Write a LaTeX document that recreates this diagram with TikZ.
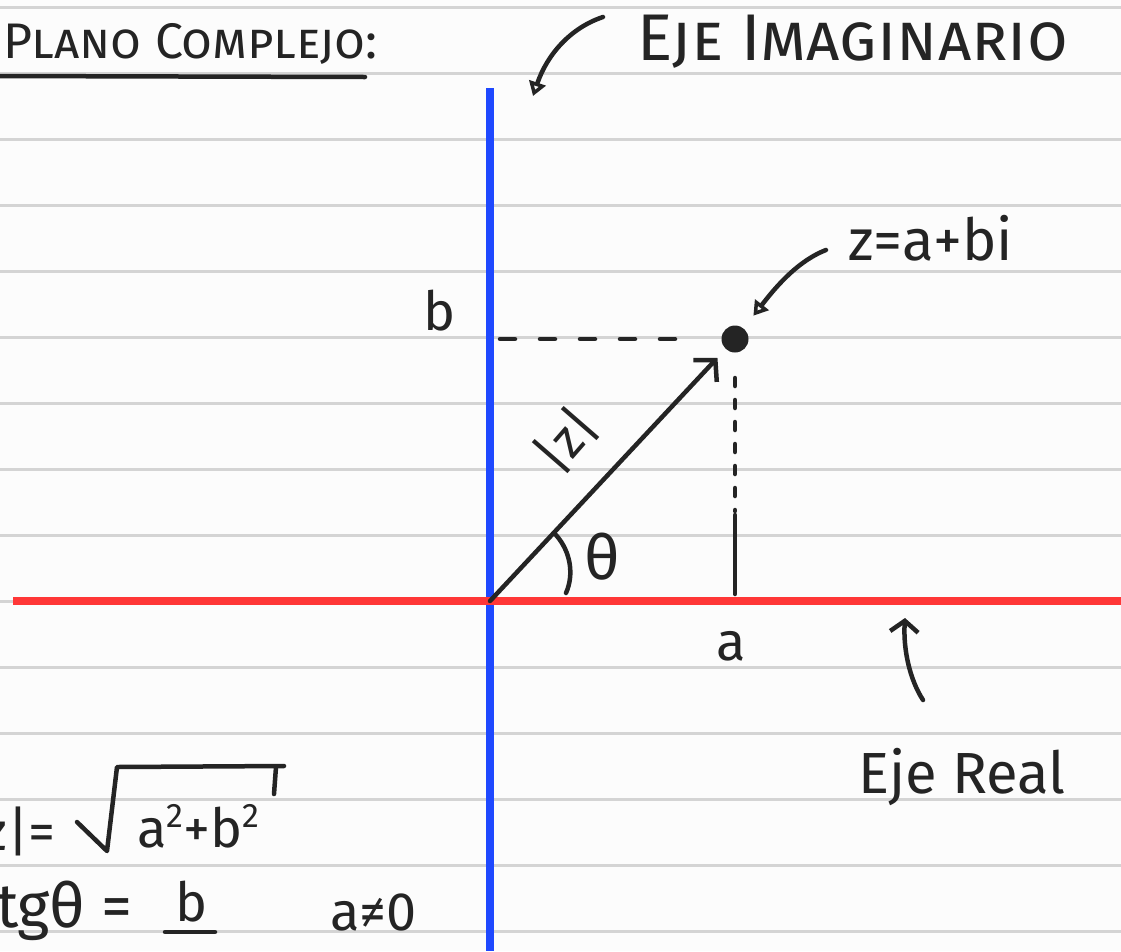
\documentclass[tikz,border=0pt]{standalone}
\usepackage{fontspec}
\setmainfont{Fira Sans}
\usetikzlibrary{arrows.meta}
\definecolor{paper}{RGB}{252,252,252}
\definecolor{rulegray}{RGB}{212,212,212}
\definecolor{imblue}{RGB}{30,72,255}
\definecolor{rered}{RGB}{255,55,55}
\definecolor{pen}{RGB}{36,36,36}
\newcommand{\hsup}[1]{\raisebox{20pt}{\fontsize{34}{34}\selectfont #1}}

\begin{document}
\begin{tikzpicture}[
  x=1pt,y=-1pt,
  >={Straight Barb[length=15pt,width=32pt]},
  ruling/.style ={draw=rulegray,line width=2.5pt},
  axis/.style   ={line width=8pt},
  ink/.style    ={draw=pen,line width=4.5pt,line cap=round,line join=round},
  hand/.style   ={text=pen,inner sep=0pt,font=\fontsize{54}{54}\selectfont},
  pointer/.style={ink,-{Triangle[open,length=14pt,width=17pt]}},
  dashh/.style  ={ink,dash pattern=on 15pt off 25pt},
  dashv/.style  ={ink,dash pattern=on 8pt off 14pt}]

\clip (0,0) rectangle (1121,951);
\fill[paper] (0,0) rectangle (1121,951);

% --- ruled paper ---
\foreach \k in {0,...,14}
  \draw[ruling] (0,{7.5+66*\k}) -- (1121,{7.5+66*\k});

% --- axes ---
\coordinate (O) at (490,601);
\draw[axis,draw=imblue] (490,88) -- (490,951);
\draw[axis,draw=rered] (13,601) -- (1121,601);

% --- the point z and its projections ---
\node[circle,fill=pen,minimum size=27pt,inner sep=0pt] (z) at (735,339) {};
\draw[ink,->,shorten >=12pt] (O) -- (z);
\coordinate (bfoot) at (O |- z);
\coordinate (afoot) at (z |- O);
\draw[dashh] ([xshift=10pt]bfoot) -- ([xshift=-38pt]z.center);
\draw[dashv] ([yshift=-39pt]z.center) -- ([yshift=90pt]afoot);
\draw[ink] ([yshift=86pt]afoot) -- ([yshift=7pt]afoot);
\draw[ink] (556,535) .. controls (571,552) and (574,575) .. (566,593);

\node[hand] (bl) at (440,311) {b};
\node[hand] (al) at (731,646) {a};
\node[hand,rotate=49,font=\fontsize{52}{52}\selectfont] (modz) at (566,440) {|z|};
\node[hand,font=\fontsize{62}{62}\selectfont] (th) at (602,557) {θ};

% --- labels with pointers ---
\node[hand,anchor=base west,font=\fontsize{50}{50}\selectfont] (title) at (3,58)
  {\scshape Plano Complejo:};
\draw[ink] (-5,76) -- (365,77);

\node[hand,anchor=base west,font=\fontsize{66}{66}\selectfont] (iml) at (637,60)
  {\scshape Eje Imaginario};
\coordinate (it) at (603,17);
\coordinate (ih) at (533,96);
\draw[pointer] (it) .. controls (570,28) and (547,55) .. (ih);

\node[hand,anchor=base west,font=\fontsize{58}{58}\selectfont] (zl) at (848,260) {z=a+bi};
\coordinate (zt) at (826,250);
\draw[pointer,shorten >=16pt] (zt) .. controls (795,262) and (772,292) .. (z);

\node[hand,anchor=base west,font=\fontsize{58}{58}\selectfont] (rel) at (858,793) {Eje Real};
\coordinate (rt) at (923,700);
\coordinate (rh) at (905,618);
\draw[ink,-{Straight Barb[length=11pt,width=28pt]}] (rt) .. controls (910,680) and (903,650) .. (rh);

% --- modulus and argument ---
\node[hand,anchor=base east] (modeq) at (56,850) {|z|=};
\node[hand,anchor=base west] (radic) at (137,847) {a\hsup{2}+b\hsup{2}};
\draw[ink] (77,822) -- (107,851) -- (117,767) -- (284,766);
\draw[ink] (276,767) -- (274,794);
\node[hand,anchor=base east,font=\fontsize{62}{62}\selectfont] (tgeq) at (133,927) {tgθ =};
\node[hand,anchor=base] (num) at (192,921) {b};
\draw[ink] ([xshift=-27pt,yshift=-11pt]num.base) -- ([xshift=23pt,yshift=-11pt]num.base);
\node[hand,anchor=base west] (cond) at (330,930) {a≠0};

\end{tikzpicture}
\end{document}
